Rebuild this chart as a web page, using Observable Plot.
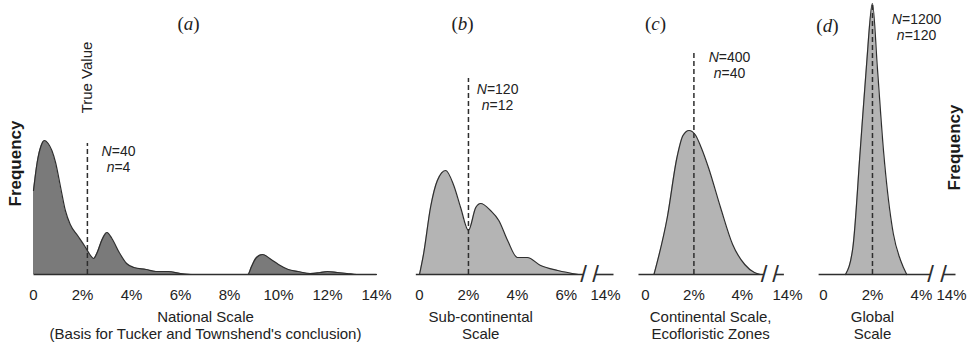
<!DOCTYPE html>
<html>
<head>
<meta charset="utf-8">
<script src="https://cdn.jsdelivr.net/npm/d3@7"></script>
<script src="https://cdn.jsdelivr.net/npm/@observablehq/plot@0.6"></script>
<style>
  html, body { margin: 0; padding: 0; background: #fff; }
  #chart { position: relative; width: 971px; height: 344px; overflow: hidden; }
  #chart svg { position: absolute; top: 0; overflow: visible; }
</style>
</head>
<body>
<div id="chart"></div>
<script>
// ---------- DATA ----------
// (a) National scale
const aPct  = [0, 0.15, 0.3, 0.45, 0.6, 0.75, 0.9, 1.1, 1.3, 1.5, 1.8, 2.1, 2.3, 2.45, 2.6, 2.8, 3.0, 3.2, 3.5, 3.8, 4.1, 4.6, 5.0, 5.5, 6.0, 6.5, 8.75, 8.9, 9.1, 9.35, 9.7, 10.0, 10.4, 10.8, 11.3, 11.7, 12.0, 12.4, 12.8, 13.2, 14];
const aFreq = [84, 112, 128, 134, 131, 124, 112, 88, 64, 50, 39, 28, 20, 16, 22, 35, 42, 36, 22, 11, 7, 5, 3, 3, 1, 0, 0, 8, 17, 20, 15, 10, 5, 3, 1, 2, 3, 2, 1, 0, 0];
// (b) Sub-continental scale
const bPct  = [0, 0.17, 0.45, 0.73, 1.07, 1.4, 1.68, 2.0, 2.3, 2.5, 2.9, 3.24, 3.6, 4.0, 4.4, 4.95, 5.65, 6.5];
const bFreq = [0, 21, 67, 94, 104, 89, 67, 44, 67, 71, 64, 54, 34, 17, 17, 9, 4, 0];
// (c) Continental scale, ecofloristic zones
const cPct  = [0.35, 0.9, 1.3, 1.55, 1.8, 2.05, 2.3, 2.6, 3.1, 3.6, 4.1, 4.5, 4.75];
const cFreq = [0, 57, 117, 139, 144, 140, 127, 107, 67, 30, 10, 2, 0];
// (d) Global scale
const dPct  = [0.9, 1.2, 1.5, 1.75, 2.0, 2.2, 2.45, 2.85, 3.15, 3.4];
const dFreq = [0, 27, 124, 207, 271, 207, 124, 41, 14, 0];

// tick values and labels
const aTicks = [0, 2, 4, 6, 8, 10, 12, 14];
const aTickLabels = ["0", "2%", "4%", "6%", "8%", "10%", "12%", "14%"];
const bTicks = [0, 2, 4, 6, 14];
const bTickLabels = ["0", "2%", "4%", "6%", "14%"];
const cTicks = [0, 2, 4, 14];
const cTickLabels = ["0", "2%", "4%", "14%"];
const dTicks = [0, 2, 4, 14];
const dTickLabels = ["0", "2%", "4%", "14%"];

// panel texts
const panelTitles = ["(a)", "(b)", "(c)", "(d)"];
const sampleNotes = ["N=40\nn=4", "N=120\nn=12", "N=400\nn=40", "N=1200\nn=120"];
const scaleLabels = [
  "National Scale\n(Basis for Tucker and Townshend's conclusion)",
  "Sub-continental\nScale",
  "Continental Scale,\nEcofloristic Zones",
  "Global\nScale"
];
const trueValues = [2.2, 2.0, 2.0, 2.0];
const trueLineTops = [131, 196, 222, 270];

// ---------- LAYOUT (positions / styles) ----------
const INK = "#2e2e2e";
const layout = [
  { left: 0,   width: 400, ml: 15, mr: 24, xDomain: [0, 14], xRange: [33, 376], fill: "#7a7a7a",
    titleX: 6.33, titleY: 251, noteX: 3.47, noteY: 116, labelX: 7.02,
    baseline: [[0, 14]], breaks: [] },
  { left: 400, width: 220, ml: 10, mr: 10, xDomain: [0, 6.7, 13.5, 14], xRange: [419, 583, 595, 605], fill: "#b4b4b4",
    titleX: 1.76, titleY: 251, noteX: 3.19, noteY: 178, labelX: 2.5,
    baseline: [[-0.15, 6.7], [13.5, 14.4]], breaks: [6.7, 13.5] },
  { left: 620, width: 175, ml: 10, mr: 10, xDomain: [0, 4.9, 13.5, 14], xRange: [645, 763.6, 775, 787], fill: "#b4b4b4",
    titleX: 0.41, titleY: 251, noteX: 3.47, noteY: 209.5, labelX: 2.69,
    baseline: [[-0.29, 4.9], [13.5, 13.85]], breaks: [4.9, 13.5] },
  { left: 795, width: 176, ml: 10, mr: 17, xDomain: [0, 4.37, 13.5, 14], xRange: [823, 930, 943, 951], fill: "#b4b4b4",
    titleX: 0.16, titleY: 249, noteX: 3.8, noteY: 248, labelX: 2.0,
    baseline: [[-0.2, 4.37], [13.5, 14.25]], breaks: [4.37, 13.5] }
];

const series = [[aPct, aFreq], [bPct, bFreq], [cPct, cFreq], [dPct, dFreq]];
const tickSets = [[aTicks, aTickLabels], [bTicks, bTickLabels], [cTicks, cTickLabels], [dTicks, dTickLabels]];

function italicize(svg) {
  const ns = "http://www.w3.org/2000/svg";
  svg.querySelectorAll("text, tspan").forEach(el => {
    if (el.children.length) return;
    const t = el.textContent;
    let m;
    if ((m = t.match(/^([Nn])(=.*)$/))) {
      el.textContent = "";
      const it = document.createElementNS(ns, "tspan");
      it.setAttribute("font-style", "italic");
      it.textContent = m[1];
      el.appendChild(it);
      el.appendChild(document.createTextNode(m[2]));
    } else if ((m = t.match(/^\((\w)\)$/))) {
      el.textContent = "";
      el.appendChild(document.createTextNode("("));
      const it = document.createElementNS(ns, "tspan");
      it.setAttribute("font-style", "italic");
      it.textContent = m[1];
      el.appendChild(it);
      el.appendChild(document.createTextNode(")"));
    }
  });
}

const chart = document.getElementById("chart");

layout.forEach((cfg, i) => {
  const [pct, freq] = series[i];
  const rows = d3.zip(pct, freq).map(([x, f]) => ({ x, f }));
  const [ticks, tickLabels] = tickSets[i];

  const extra = [];
  if (i === 0) {
    extra.push(Plot.text(["Frequency"], { frameAnchor: "left", rotate: -90, fontWeight: "bold", fontSize: 17,
      textAnchor: "middle", lineAnchor: "middle", dy: 24, fill: "#1a1a1a" }));
    extra.push(Plot.text(["True Value"], { x: trueValues[0], y: 197, rotate: -90, fontSize: 15,
      textAnchor: "middle", lineAnchor: "middle", fill: "#222" }));
  }
  if (i === 3) {
    extra.push(Plot.text(["Frequency"], { frameAnchor: "right", rotate: -90, fontWeight: "bold", fontSize: 17,
      textAnchor: "middle", lineAnchor: "middle", dy: 8, fill: "#1a1a1a" }));
  }

  const svg = Plot.plot({
    width: cfg.width,
    height: 344,
    marginTop: 4,
    marginBottom: 70,
    marginLeft: cfg.ml,
    marginRight: cfg.mr,
    style: { background: "transparent", overflow: "visible", fontFamily: "'Liberation Sans', Arial, sans-serif", fontSize: "15px", color: "#222" },
    x: { type: "linear", domain: cfg.xDomain, range: cfg.xRange.map(v => v - cfg.left),
         ticks, tickFormat: d => tickLabels[ticks.indexOf(d)], tickSize: 0, tickPadding: 15, label: null },
    y: { domain: [0, 270], range: [274, 4], axis: null },
    marks: [
      Plot.areaY(rows, { x: "x", y: "f", fill: cfg.fill, curve: "monotone-x" }),
      Plot.lineY(rows, { x: "x", y: "f", stroke: INK, strokeWidth: 1.2, curve: "monotone-x" }),
      Plot.link(cfg.baseline, { x1: d => d[0], x2: d => d[1], y1: 0, y2: 0, stroke: INK, strokeWidth: 1.6 }),
      Plot.text(cfg.breaks, { x: d => d, y: 0, text: () => "/", fontSize: 24, fill: INK, lineAnchor: "middle", textAnchor: "middle" }),
      Plot.ruleX([trueValues[i]], { y1: 0, y2: trueLineTops[i], stroke: INK, strokeWidth: 1.5, strokeDasharray: "5,3" }),
      Plot.text([sampleNotes[i]], { x: cfg.noteX, y: cfg.noteY, text: d => d, fontSize: 14, lineHeight: 1.16,
        lineAnchor: "middle", textAnchor: "middle", fill: "#222" }),
      Plot.text([scaleLabels[i]], { x: cfg.labelX, y: -51, text: d => d, fontSize: 15, lineHeight: 1.13,
        lineAnchor: "middle", textAnchor: "middle", fill: "#222" }),
      Plot.text([panelTitles[i]], { x: cfg.titleX, y: cfg.titleY, text: d => d, fontFamily: "'Liberation Serif', serif",
        fontSize: 19, lineAnchor: "middle", textAnchor: "middle", fill: "#222" }),
      ...extra
    ]
  });
  svg.style.left = cfg.left + "px";
  italicize(svg);
  chart.appendChild(svg);
});
</script>
</body>
</html>
